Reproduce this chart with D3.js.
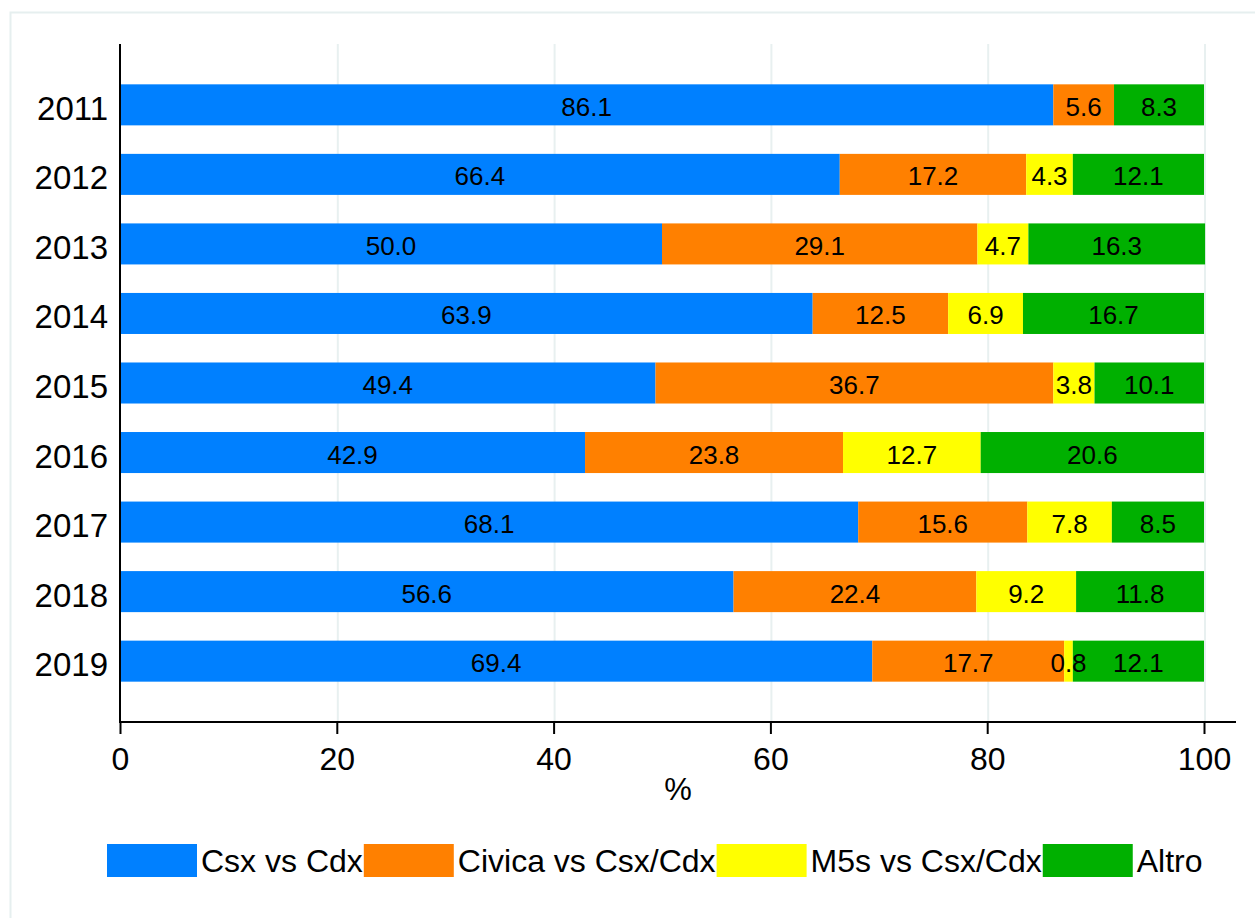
<!DOCTYPE html>
<html>
<head>
<meta charset="utf-8">
<script src="https://cdn.jsdelivr.net/npm/d3@7"></script>
<style>
  body { margin: 0; background: #fff; }
  svg text { font-family: "Liberation Sans", Arial, Helvetica, sans-serif; fill: #000; }
</style>
</head>
<body>
<div id="chart"></div>
<script>
const years = ["2011", "2012", "2013", "2014", "2015", "2016", "2017", "2018", "2019"];
const seriesNames = ["Csx vs Cdx", "Civica vs Csx/Cdx", "M5s vs Csx/Cdx", "Altro"];
const csxCdx =   [86.1, 66.4, 50.0, 63.9, 49.4, 42.9, 68.1, 56.6, 69.4];
const civica =   [5.6, 17.2, 29.1, 12.5, 36.7, 23.8, 15.6, 22.4, 17.7];
const m5s =      [0, 4.3, 4.7, 6.9, 3.8, 12.7, 7.8, 9.2, 0.8];
const altro =    [8.3, 12.1, 16.3, 16.7, 10.1, 20.6, 8.5, 11.8, 12.1];
const xTicks = [0, 20, 40, 60, 80, 100];
const colors = ["#0080ff", "#ff8000", "#ffff00", "#00b000"];

const W = 1255, H = 918;
const margin = { top: 44, left: 120, right: 51, bottom: 196 };
const plotRight = 1204;

const svg = d3.select("#chart").append("svg")
    .attr("width", W)
    .attr("height", H);

// outer frame (only top/left visible in the picture)
svg.append("rect")
    .attr("x", 10.5).attr("y", 12.5)
    .attr("width", W + 20).attr("height", H + 20)
    .attr("fill", "none")
    .attr("stroke", "#e6efef")
    .attr("stroke-width", 2);

const x = d3.scaleLinear().domain([0, 100]).range([margin.left, plotRight]);
const y = d3.scaleBand()
    .domain(years)
    .range([margin.top, H - margin.bottom])
    .paddingInner(0.41)
    .paddingOuter(0.58);

const axisY = 722;

// gridlines
svg.append("g")
    .selectAll("line")
    .data(xTicks.filter(d => d > 0))
    .join("line")
    .attr("x1", d => x(d) + 1).attr("x2", d => x(d) + 1)
    .attr("y1", margin.top).attr("y2", axisY)
    .attr("stroke", "#e8f0f0")
    .attr("stroke-width", 2);

const rows = years.map((yr, i) => ({ year: yr, values: [csxCdx[i], civica[i], m5s[i], altro[i]] }));
const stack = d3.stack().keys([0, 1, 2, 3]).value((d, k) => d.values[k]);
const stacked = stack(rows);

svg.append("g")
    .selectAll("g")
    .data(stacked)
    .join("g")
    .attr("fill", (d, i) => colors[i])
    .selectAll("rect")
    .data(d => d)
    .join("rect")
    .attr("x", d => x(d[0]))
    .attr("y", d => y(d.data.year))
    .attr("width", d => x(d[1]) - x(d[0]))
    .attr("height", y.bandwidth());

// value labels, drawn above all bars
const segs = stacked.flatMap(layer => layer.filter(d => d[1] - d[0] > 0));
svg.append("g")
    .selectAll("text")
    .data(segs)
    .join("text")
    .attr("x", d => (x(d[0]) + x(d[1])) / 2)
    .attr("y", d => y(d.data.year) + y.bandwidth() / 2 + 11)
    .attr("text-anchor", "middle")
    .style("font-size", "26px")
    .text(d => (d[1] - d[0]).toFixed(1));

// y axis
svg.append("line")
    .attr("x1", margin.left).attr("x2", margin.left)
    .attr("y1", margin.top).attr("y2", axisY)
    .attr("stroke", "#000").attr("stroke-width", 2);

svg.append("g")
    .selectAll("text")
    .data(years)
    .join("text")
    .attr("x", 108)
    .attr("y", d => y(d) + y.bandwidth() / 2 + 15)
    .attr("text-anchor", "end")
    .style("font-size", "33px")
    .text(d => d);

// x axis
const xAxis = svg.append("g")
    .attr("transform", `translate(0,${axisY})`)
    .call(d3.axisBottom(x).tickValues(xTicks).tickSize(12).tickPadding(12).tickSizeOuter(0));
xAxis.select(".domain").remove();
xAxis.selectAll(".tick line").attr("stroke", "#000").attr("stroke-width", 2);
xAxis.selectAll(".tick text").style("font-size", "32px").attr("dy", "0.75em")
    .style("font-family", "'Liberation Sans', Arial, sans-serif");
svg.append("line")
    .attr("x1", margin.left - 1).attr("x2", 1236)
    .attr("y1", axisY).attr("y2", axisY)
    .attr("stroke", "#000").attr("stroke-width", 2);

svg.append("text")
    .attr("x", 678).attr("y", 800)
    .attr("text-anchor", "middle")
    .style("font-size", "31px")
    .text("%");

// legend
const legend = svg.append("g");
let lx = 107;
seriesNames.forEach((name, i) => {
    legend.append("rect")
        .attr("x", lx).attr("y", 844)
        .attr("width", 90).attr("height", 33)
        .attr("fill", colors[i]);
    const t = legend.append("text")
        .attr("x", lx + 94).attr("y", 872)
        .style("font-size", "32px")
        .text(name);
    lx = lx + 94 + t.node().getComputedTextLength() + 1;
});
</script>
</body>
</html>
